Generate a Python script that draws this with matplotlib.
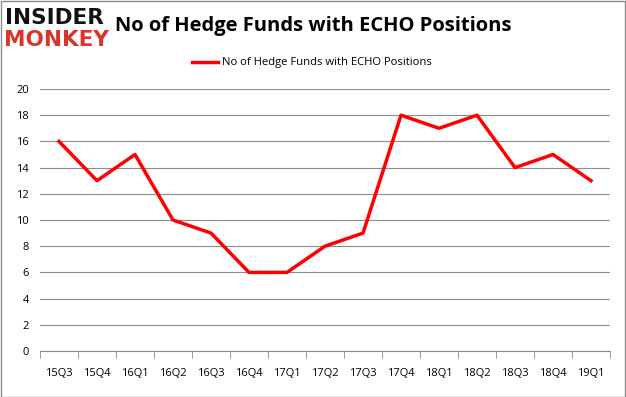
import matplotlib
matplotlib.use("Agg")
import matplotlib.pyplot as plt
from matplotlib.patches import Rectangle

quarters = ["15Q3", "15Q4", "16Q1", "16Q2", "16Q3", "16Q4", "17Q1", "17Q2",
            "17Q3", "17Q4", "18Q1", "18Q2", "18Q3", "18Q4", "19Q1"]
funds = [16, 13, 15, 10, 9, 6, 6, 8, 9, 18, 17, 18, 14, 15, 13]
series_name = "No of Hedge Funds with ECHO Positions"
title = "No of Hedge Funds with ECHO Positions"

W, H = 626, 397
fig = plt.figure(figsize=(W / 100, H / 100), dpi=100)
fig.patches.append(Rectangle((0.5 / W, 0.5 / H), 1 - 1.5 / W, 1 - 1.5 / H,
                             transform=fig.transFigure, fill=False,
                             edgecolor="#8c8c8c", linewidth=1))

ax = fig.add_axes([40 / W, 1 - 351 / H, 570 / W, 262 / H])
x = list(range(len(quarters)))
line, = ax.plot(x, funds, color="#ff0000", linewidth=2.5, label=series_name)
ax.set_xlim(-0.5, len(quarters) - 0.5)
ax.set_ylim(0, 20)
ax.set_yticks(range(0, 21, 2))
ax.set_yticklabels([str(v) for v in range(0, 21, 2)], fontsize=8,
                   family="Open Sans")
ax.yaxis.grid(True, color="#8c8c8c", linewidth=0.8)
ax.set_axisbelow(True)
ax.tick_params(axis="y", length=0, pad=8)
ax.set_xticks(x)
ax.set_xticklabels(quarters, fontsize=8, family="Open Sans")
ax.set_xticks([i - 0.5 for i in range(len(quarters) + 1)], minor=True)
ax.tick_params(axis="x", which="major", length=0, pad=12)
ax.tick_params(axis="x", which="minor", length=5, color="#8c8c8c")
for s in ["top", "right", "left"]:
    ax.spines[s].set_visible(False)
ax.spines["bottom"].set_color("#8c8c8c")

fig.text(115 / W, 1 - 26 / H, title, fontsize=14.5, fontweight="bold",
         family="Open Sans", va="center", ha="left")
fig.text(5 / W, 1 - 18 / H, "INSIDER", fontsize=15.5, fontweight="heavy",
         family="DejaVu Sans", color="#111111", va="center", ha="left")
fig.text(4 / W, 1 - 40 / H, "MONKEY", fontsize=15.5, fontweight="heavy",
         family="DejaVu Sans", color="#d9352a", va="center", ha="left")

fig.legend(handles=[line], loc="center left",
           bbox_to_anchor=(192 / W, 1 - 63 / H), frameon=False,
           prop={"family": "Open Sans", "size": 8.1}, borderpad=0,
           handlelength=2.35, handletextpad=0.35, borderaxespad=0)

fig.savefig("out.png", dpi=100)
